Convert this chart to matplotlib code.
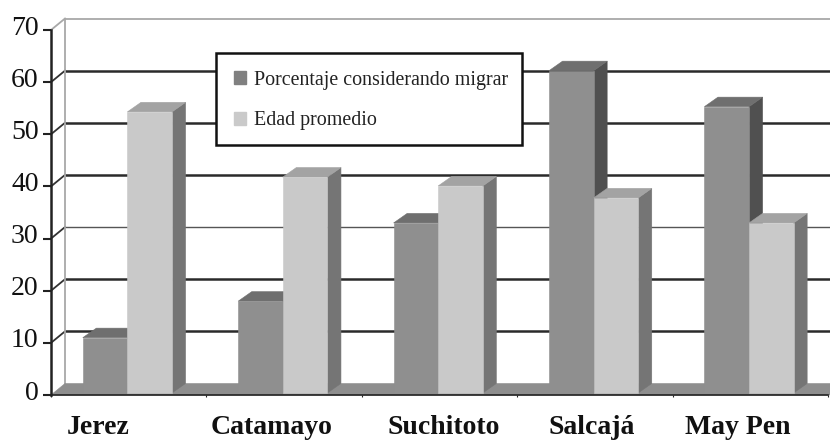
import matplotlib
matplotlib.use("Agg")
import matplotlib.pyplot as plt
from matplotlib.patches import Polygon, Patch, Rectangle
from matplotlib.transforms import ScaledTranslation

categories = ["Jerez", "Catamayo", "Suchitoto", "Salcajá", "May Pen"]
migrar = [11.0, 18.0, 33.0, 62.2, 55.3]
edad = [54.3, 41.8, 40.1, 37.8, 33.0]
yticks = [0, 10, 20, 30, 40, 50, 60, 70]
series_names = ["Porcentaje considerando migrar", "Edad promedio"]
label_shift = [-31, -13, 4, -3, -13]

W, H = 830, 442
plt.rcParams["font.family"] = ["Liberation Serif", "DejaVu Serif"]
fig = plt.figure(figsize=(W / 100, H / 100), dpi=100, facecolor="white")
L, R, T, B = 51, 828, 30, 395
ax = fig.add_axes([L / W, 1 - B / H, (R - L) / W, (B - T) / H])
ax.set_xlim(0, 5)
ax.set_ylim(0, 70)
ax.patch.set_alpha(0)

px = 5 / (R - L)
py = 70 / (B - T)
DX, DY = 14 * px, 11.5 * py      # depth of the wall
bdx, bdy = 13.5 * px, 9.5 * py   # depth of the bars
bw = 0.287
gap = 0.205


def poly(points, color, z):
    ax.add_patch(Polygon(points, closed=True, facecolor=color, edgecolor=color,
                         linewidth=0.4, zorder=z, clip_on=False, joinstyle="round"))


def bar3d(x, v, face, top, side, z):
    base = 0.4
    poly([(x + bw, base), (x + bw + bdx, base + bdy), (x + bw + bdx, v + bdy), (x + bw, v)], side, z)
    poly([(x, v), (x + bdx, v + bdy), (x + bw + bdx, v + bdy), (x + bw, v)], top, z)
    poly([(x, base), (x + bw, base), (x + bw, v), (x, v)], face, z + 0.1)


# back wall gridlines
for t in yticks[1:]:
    if t == 70:
        c, lw = "#a8a8a8", 1.3
    elif t == 30:
        c, lw = "#555555", 1.0
    else:
        c, lw = "#2a2a2a", 1.8
    ax.plot([DX, 5.02], [t + DY, t + DY], color=c, lw=lw, zorder=1, clip_on=False,
            solid_capstyle="butt")
    ax.plot([0, DX], [t, t + DY], color="#333333" if t != 70 else "#a8a8a8",
            lw=1.3, zorder=1, clip_on=False)
ax.plot([DX, DX], [DY, 70 + DY], color="#a8a8a8", lw=1.3, zorder=1, clip_on=False)

# floor
poly([(0, 0), (DX, DY), (5.02, DY), (5.02, 0)], "#8e8e8e", 1.5)

# bars
for i, (a, b) in enumerate(zip(migrar, edad)):
    z = 2 + i
    bar3d(i + gap, a, "#8f8f8f", "#6f6f6f", "#505050", z)
    bar3d(i + gap + bw, b, "#c9c9c9", "#a3a3a3", "#757575", z + 0.3)

# axes lines and ticks
for s in ["top", "right"]:
    ax.spines[s].set_visible(False)
ax.spines["left"].set_linewidth(1.8)
ax.spines["left"].set_color("#222222")
ax.spines["bottom"].set_linewidth(1.2)
ax.spines["bottom"].set_color("#222222")
ax.spines["left"].set_zorder(20)
ax.spines["bottom"].set_zorder(20)
ax.set_yticks(yticks)
ax.set_xticks(range(6))
ax.set_xticklabels([])
ax.tick_params(axis="y", length=6, width=1.5, color="#222222", pad=3, labelsize=20, labelcolor="#111111")
ax.tick_params(axis="x", length=1.5, width=0.8, color="#222222", direction="out")
lift = ScaledTranslation(0, 5 / 100, fig.dpi_scale_trans)
for lab in ax.get_yticklabels():
    lab.set_transform(lab.get_transform() + lift)
for i, name in enumerate(categories):
    ax.annotate(name, xy=(i + 0.5, 0), xytext=(label_shift[i], -33), textcoords="offset pixels",
                ha="center", va="center", fontsize=20, fontweight="bold", color="#111111",
                annotation_clip=False)

# legend: frame sized to the reference box, entries placed inside it
fig.add_artist(Rectangle((216 / W, 1 - 144.5 / H), 306 / W, 91.5 / H, transform=fig.transFigure,
                         facecolor="white", edgecolor="#111111", linewidth=1.8, zorder=30))
handles = [Patch(facecolor="#808080", edgecolor="#808080"),
           Patch(facecolor="#cacaca", edgecolor="#cacaca")]
leg = fig.legend(handles, series_names, loc="upper left",
                 bbox_to_anchor=(234 / W, 1 - 70.5 / H), bbox_transform=fig.transFigure,
                 fontsize=14.4, frameon=False,
                 handlelength=0.6, handleheight=0.6, handletextpad=0.42, labelspacing=1.1,
                 borderpad=0, borderaxespad=0, labelcolor="#222222")
leg.set_zorder(31)

fig.savefig("out.png", dpi=100, facecolor="white")
